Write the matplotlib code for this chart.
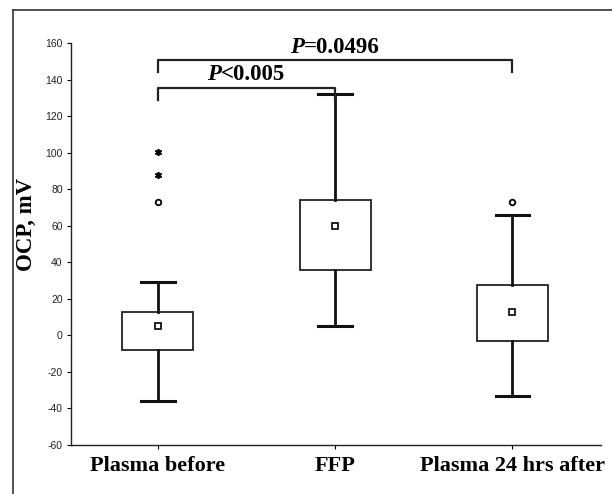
import matplotlib
matplotlib.use("Agg")
import matplotlib.pyplot as plt
from matplotlib.lines import Line2D
from matplotlib.offsetbox import TextArea, HPacker, AnnotationBbox

plt.rcParams["axes.unicode_minus"] = False

categories = ["Plasma before", "FFP", "Plasma 24 hrs after"]
medians = [5, 60, 13]
q1 = [-8, 35.5, -3]
q3 = [13, 74, 27.5]
whisker_low = [-36, 5, -33]
whisker_high = [29, 132, 66]
outliers_circle = [[73], [], [73]]
outliers_star = [[88, 100.5], [], []]
yticks = [-60, -40, -20, 0, 20, 40, 60, 80, 100, 120, 140, 160]
comparisons = [(0, 1, "<0.005", 135.5, 129), (0, 2, "=0.0496", 150.5, 144)]

fig = plt.figure(figsize=(6.12, 4.94), dpi=100)
ax = fig.add_axes([71/612, 1-445/494, (601-71)/612, (445-43)/494])

# outer frame
fig.add_artist(Line2D([12.5/612, 12.5/612], [0, 1-10/494], color="#333333", lw=1.2))
fig.add_artist(Line2D([12.5/612, 1.0], [1-10/494, 1-10/494], color="#333333", lw=1.2))

stats = []
for i, c in enumerate(categories):
    stats.append(dict(med=medians[i], q1=q1[i], q3=q3[i], whislo=whisker_low[i],
                      whishi=whisker_high[i], fliers=[], label=c))
ax.bxp(stats, positions=range(len(categories)), widths=0.4, patch_artist=True,
       showfliers=False,
       boxprops=dict(facecolor="white", edgecolor="#222222", linewidth=1.3),
       whiskerprops=dict(color="#111111", linewidth=2.0),
       capprops=dict(color="#111111", linewidth=2.2),
       medianprops=dict(linewidth=0), capwidths=0.19, zorder=2)
ax.plot(range(len(categories)), medians, ls="none", marker="s", ms=4,
        mfc="white", mec="black", mew=1.2, zorder=3)
for i in range(len(categories)):
    if outliers_circle[i]:
        ax.plot([i]*len(outliers_circle[i]), outliers_circle[i], ls="none", marker="o",
                ms=4, mfc="white", mec="black", mew=1.3, zorder=3)
    if outliers_star[i]:
        ax.plot([i]*len(outliers_star[i]), outliers_star[i], ls="none", marker=(6, 2, 0),
                ms=5, color="black", mew=1.2, zorder=3)

ax.set_xlim(-0.49, 2.5)
ax.set_ylim(-60, 160)
ax.set_yticks(yticks)
ax.set_xticks(range(len(categories)))
ax.set_xticklabels(categories, family="Liberation Serif", fontweight="bold", fontsize=16)
for lab in ax.get_yticklabels():
    lab.set_family("Liberation Sans")
    lab.set_fontsize(7.5)
    lab.set_color("#222222")
ax.tick_params(axis="y", length=3, width=0.8, pad=3)
ax.tick_params(axis="x", length=3, width=0.8, pad=5)
for s in ["top", "right"]:
    ax.spines[s].set_visible(False)
for s in ["left", "bottom"]:
    ax.spines[s].set_linewidth(1.0)
    ax.spines[s].set_color("#222222")

fig.text(26/612, 1-224/494, "OCP, mV", rotation=90, ha="center", va="center",
         family="Liberation Serif", fontweight="bold", fontsize=16.5)

for a, b, txt, ytop, ytip in comparisons:
    ax.plot([a, a, b, b], [ytip, ytop, ytop, ytip], color="#222222", lw=1.6, clip_on=False)
    t1 = TextArea("P", textprops=dict(family="Liberation Serif", fontweight="bold",
                                       fontstyle="italic", fontsize=16.5))
    t2 = TextArea(txt, textprops=dict(family="Liberation Serif", fontweight="bold", fontsize=16.5))
    box = HPacker(children=[t1, t2], pad=0, sep=0, align="baseline")
    ab = AnnotationBbox(box, ((a + b) / 2, ytop + 1.5), xycoords="data",
                        box_alignment=(0.5, 0), frameon=False, pad=0,
                        annotation_clip=False)
    ax.add_artist(ab)

fig.savefig("out.png", dpi=100)
